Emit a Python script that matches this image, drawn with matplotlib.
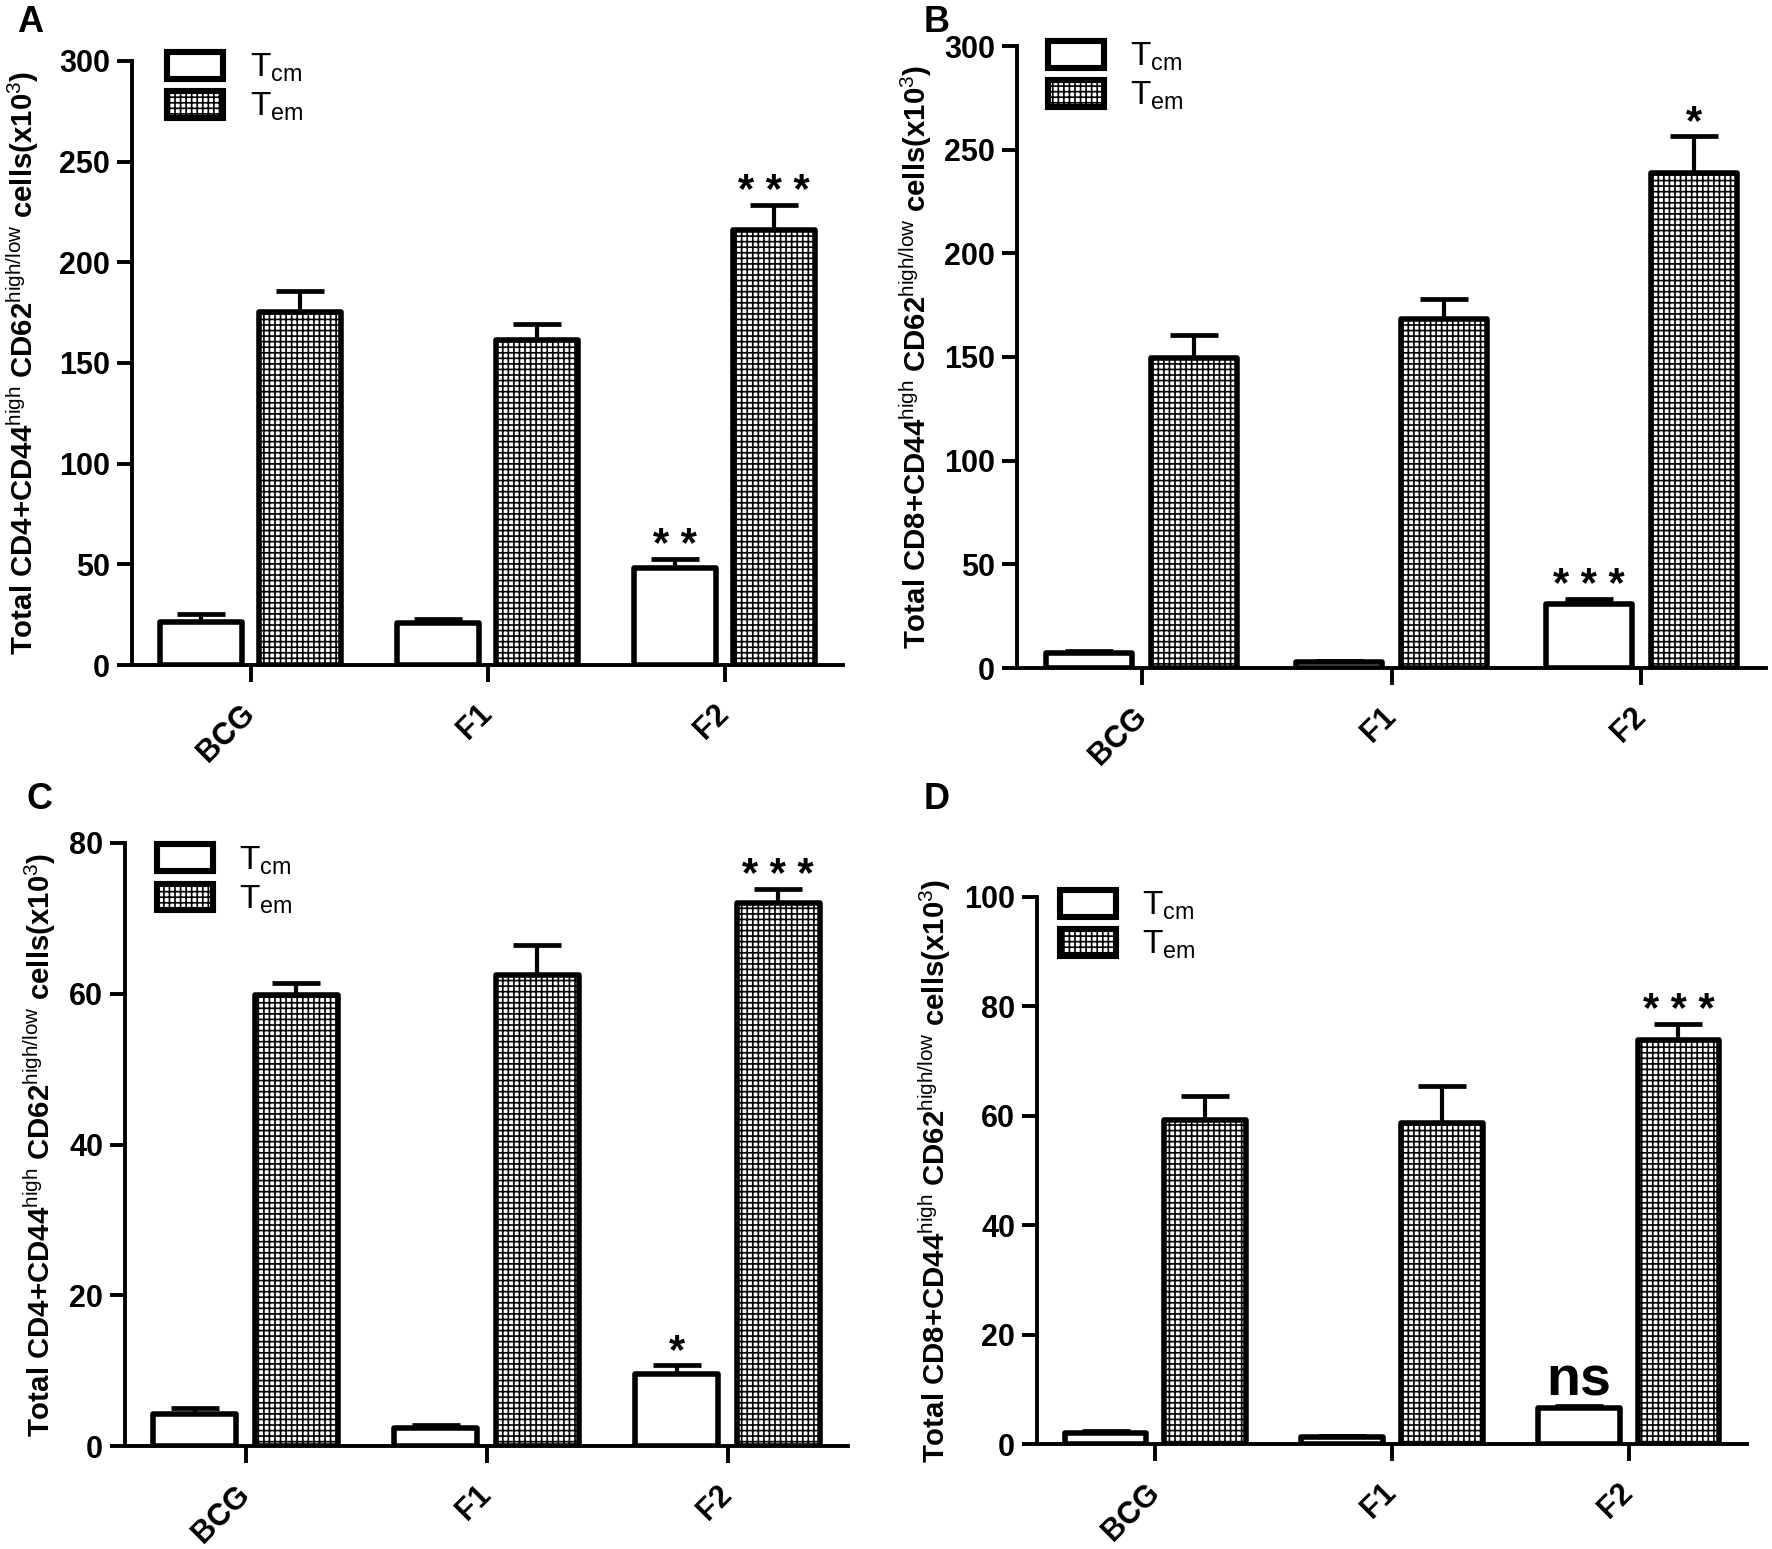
import matplotlib
matplotlib.use('Agg')
import matplotlib.pyplot as plt
from matplotlib.patches import Rectangle
import numpy as np

plt.rcParams['font.family'] = ['Liberation Sans', 'DejaVu Sans']
plt.rcParams['mathtext.fontset'] = 'custom'
plt.rcParams['mathtext.rm'] = 'Liberation Sans'
plt.rcParams['mathtext.it'] = 'Liberation Sans'
plt.rcParams['mathtext.bf'] = 'Liberation Sans:bold'
plt.rcParams['hatch.linewidth'] = 0.6
plt.rcParams['hatch.color'] = 'black'

# ---------------- data ----------------
groups = ['BCG', 'F1', 'F2']
series_names = ['T$_{\\mathrm{cm}}$', 'T$_{\\mathrm{em}}$']

A_tcm = [21.5, 20.7, 48.0]
A_tcm_err = [3.7, 2.3, 4.7]
A_tem = [175.4, 161.6, 216.0]
A_tem_err = [10.6, 7.9, 12.6]

B_tcm = [7.1, 2.8, 30.7]
B_tcm_err = [1.2, 0.5, 2.6]
B_tem = [149.3, 168.5, 238.9]
B_tem_err = [11.1, 9.3, 17.8]

C_tcm = [4.2, 2.4, 9.5]
C_tcm_err = [0.8, 0.4, 1.3]
C_tem = [59.9, 62.5, 72.1]
C_tem_err = [1.5, 4.0, 1.8]

D_tcm = [2.1, 1.3, 6.6]
D_tcm_err = [0.3, 0.2, 0.3]
D_tem = [59.2, 58.6, 73.8]
D_tem_err = [4.4, 6.9, 3.0]

A_sig_tcm = ['', '', '**']
A_sig_tem = ['', '', '***']
B_sig_tcm = ['', '', '***']
B_sig_tem = ['', '', '*']
C_sig_tcm = ['', '', '*']
C_sig_tem = ['', '', '***']
D_sig_tcm = ['', '', 'ns']
D_sig_tem = ['', '', '***']

A_yticks = [0, 50, 100, 150, 200, 250, 300]
B_yticks = [0, 50, 100, 150, 200, 250, 300]
C_yticks = [0, 20, 40, 60, 80]
D_yticks = [0, 20, 40, 60, 80, 100]

label_cd4 = r'Total CD4+CD44$^{\mathrm{high}}$ CD62$^{\mathrm{high/low}}$ cells(x10$^{\mathrm{3}}$)'
label_cd8 = r'Total CD8+CD44$^{\mathrm{high}}$ CD62$^{\mathrm{high/low}}$ cells(x10$^{\mathrm{3}}$)'

# ---------------- layout ----------------
W, H, DPI = 1772, 1549, 200
fig = plt.figure(figsize=(W / DPI, H / DPI), dpi=DPI)
fig.patch.set_facecolor('white')

HATCH = '++++++'
BAR_W = 0.345
OFF = 0.21
EDGE_LW = 2.0
AX_LW = 1.4


def make_axes(x0, x1, ytop, yzero):
    return fig.add_axes([x0 / W, 1 - yzero / H, (x1 - x0) / W, (yzero - ytop) / H])


panels = [
    dict(letter='A', box=(132, 843, 61, 665), letter_pos=(30, 22),
         tcm=A_tcm, tcm_err=A_tcm_err, tem=A_tem, tem_err=A_tem_err,
         sig_tcm=A_sig_tcm, sig_tem=A_sig_tem, yticks=A_yticks,
         ylabel=label_cd4, label_x=-0.128, leg=(0.049, 1.015)),
    dict(letter='B', box=(1017, 1766, 46, 668), letter_pos=(937, 22),
         tcm=B_tcm, tcm_err=B_tcm_err, tem=B_tem, tem_err=B_tem_err,
         sig_tcm=B_sig_tcm, sig_tem=B_sig_tem, yticks=B_yticks,
         ylabel=label_cd8, label_x=-0.111, leg=(0.041, 1.008)),
    dict(letter='C', box=(125, 848, 843, 1446), letter_pos=(40, 799),
         tcm=C_tcm, tcm_err=C_tcm_err, tem=C_tem, tem_err=C_tem_err,
         sig_tcm=C_sig_tcm, sig_tem=C_sig_tem, yticks=C_yticks,
         ylabel=label_cd4, label_x=-0.093, leg=(0.044, 0.998)),
    dict(letter='D', box=(1037, 1747, 897, 1444), letter_pos=(937, 799),
         tcm=D_tcm, tcm_err=D_tcm_err, tem=D_tem, tem_err=D_tem_err,
         sig_tcm=D_sig_tcm, sig_tem=D_sig_tem, yticks=D_yticks,
         ylabel=label_cd8, label_x=-0.118, leg=(0.032, 1.013)),
]

x = np.arange(len(groups))

for p in panels:
    ax = make_axes(*p['box'])
    tcm = np.array(p['tcm'])
    tem = np.array(p['tem'])
    zeros = np.zeros(len(groups))

    ax.errorbar(x - OFF, tcm, yerr=[zeros, p['tcm_err']], fmt='none', ecolor='black',
                elinewidth=1.5, capsize=8.5, capthick=1.7, zorder=2)
    ax.errorbar(x + OFF, tem, yerr=[zeros, p['tem_err']], fmt='none', ecolor='black',
                elinewidth=1.5, capsize=8.5, capthick=1.7, zorder=2)
    ax.bar(x - OFF, tcm, BAR_W, facecolor='white', edgecolor='black',
           linewidth=EDGE_LW, zorder=3, joinstyle='round')
    ax.bar(x + OFF, tem, BAR_W, facecolor='white', edgecolor='black',
           linewidth=EDGE_LW, hatch=HATCH, zorder=3, joinstyle='round')

    # significance marks
    for xi, v, e, s in zip(x - OFF, tcm, p['tcm_err'], p['sig_tcm']):
        if s == 'ns':
            ax.annotate(s, xy=(xi, v), xytext=(0, 4.5), textcoords='offset points',
                        ha='center', va='baseline', fontsize=20, fontweight='bold')
        elif s:
            ax.annotate(' '.join(s), xy=(xi, v + e), xytext=(0, 4.5), textcoords='offset points',
                        ha='center', va='center', fontsize=15, fontweight='bold')
    for xi, v, e, s in zip(x + OFF, tem, p['tem_err'], p['sig_tem']):
        if s:
            ax.annotate(' '.join(s), xy=(xi, v + e), xytext=(0, 4.5), textcoords='offset points',
                        ha='center', va='center', fontsize=15, fontweight='bold')

    ymax = p['yticks'][-1]
    ax.set_ylim(0, ymax)
    ax.set_xlim(-0.5, 2.5)
    ax.set_yticks(p['yticks'])
    ax.set_xticks(x)
    ax.set_xticklabels(groups, rotation=45, ha='right', va='center',
                       rotation_mode='anchor', fontweight='bold', fontsize=11)
    for lbl in ax.get_yticklabels():
        lbl.set_fontweight('bold')
        lbl.set_fontsize(11)

    for side in ('top', 'right'):
        ax.spines[side].set_visible(False)
    for side in ('left', 'bottom'):
        ax.spines[side].set_linewidth(AX_LW)
    ax.tick_params(axis='y', length=5.4, width=AX_LW, pad=2.5)
    ax.tick_params(axis='x', length=6.0, width=AX_LW, pad=10)

    ax.set_ylabel(p['ylabel'], fontsize=10.6, fontweight='bold')
    ax.yaxis.set_label_coords(p['label_x'], 0.5)

    handles = [Rectangle((0, 0), 1, 1, facecolor='white', edgecolor='black', linewidth=2.2),
               Rectangle((0, 0), 1, 1, facecolor='white', edgecolor='black', linewidth=2.2,
                         hatch=HATCH)]
    ax.legend(handles, series_names, loc='upper left', bbox_to_anchor=p['leg'],
              frameon=False, fontsize=12, handlelength=1.68, handleheight=0.84,
              labelspacing=0.2, handletextpad=0.8, borderpad=0, borderaxespad=0)

    lx, ly = p['letter_pos']
    fig.text(lx / W, 1 - ly / H, p['letter'], fontsize=13, fontweight='bold',
             ha='center', va='center')

fig.savefig('out.png', dpi=DPI, facecolor='white')
